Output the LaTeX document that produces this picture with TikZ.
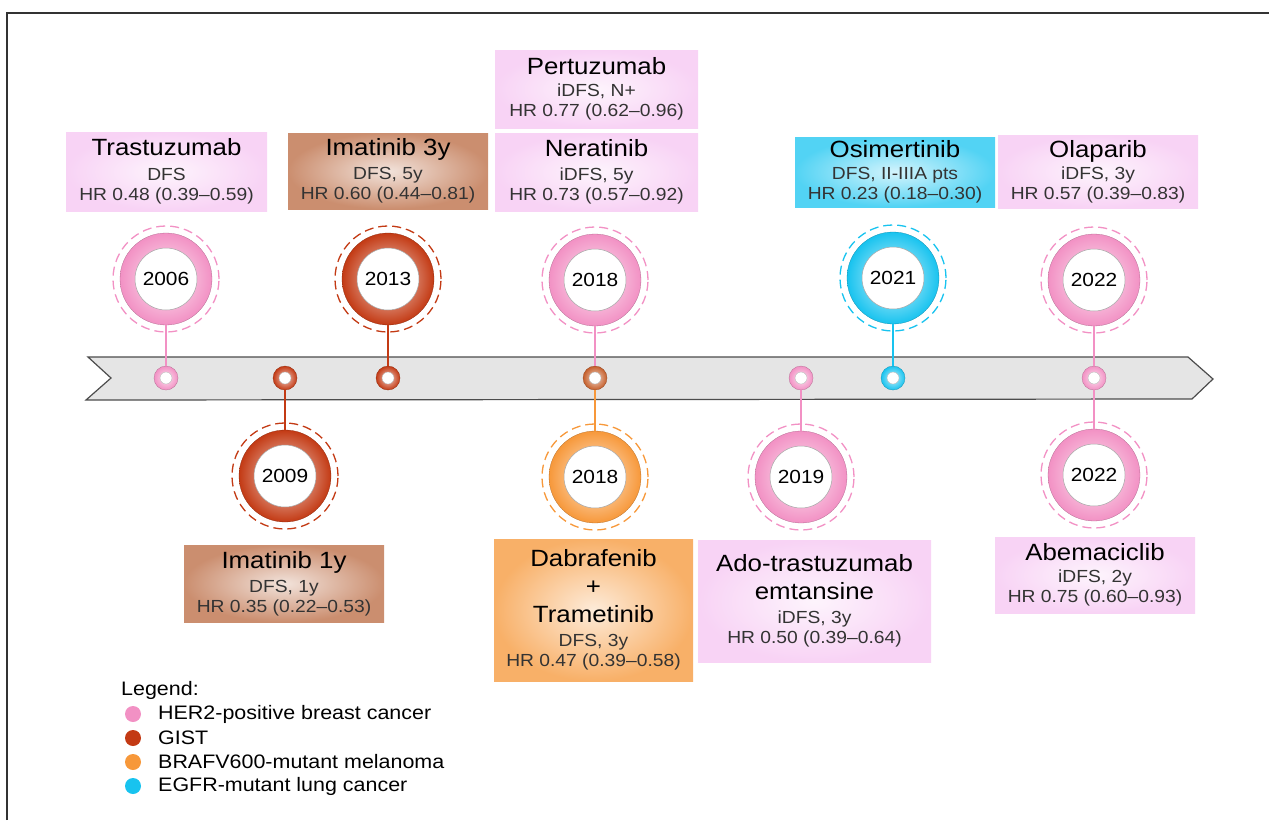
\documentclass[tikz,border=0pt]{standalone}
\usepackage{fontspec}
\setmainfont{Liberation Sans}[FakeStretch=1.1]
\usepackage{tikz}

\definecolor{herpink}{HTML}{F291C4}
\definecolor{gistred}{HTML}{C33A14}
\definecolor{melorange}{HTML}{F7983A}
\definecolor{egfrcyan}{HTML}{18C3EF}
\definecolor{mixdot}{HTML}{C55E2A}
\definecolor{boxpink}{HTML}{F8D3F5}
\definecolor{boxbrown}{HTML}{CB8E6F}
\definecolor{boxorange}{HTML}{F8B068}
\definecolor{boxcyan}{HTML}{52D3F4}
\definecolor{bandgray}{HTML}{E5E5E5}
\definecolor{subgray}{HTML}{333333}

\newcommand{\titlefont}{\fontsize{23.5}{26}\selectfont}
\newcommand{\subfont}{\fontsize{17.5}{20}\selectfont}
\newcommand{\yearfont}{\fontsize{19}{22}\selectfont}
\newcommand{\legendfont}{\fontsize{19.5}{22}\selectfont}

\tikzset{
  ring/.style={circle, inner sep=0pt, minimum size=92pt, shading=radial,
    inner color=#1!20!white, outer color=#1, draw=#1!75!black, line width=0.3pt},
  hole/.style={circle, inner sep=0pt, minimum size=62pt, fill=white,
    draw=gray!70, line width=0.5pt, font=\yearfont},
  halo/.style={draw=#1, dash pattern=on 9pt off 5pt, line width=1.3pt},
  pin/.style={circle, inner sep=0pt, minimum size=24pt, shading=radial,
    inner color=#1!25!white, outer color=#1, draw=#1!75!black, line width=0.3pt},
  pinhole/.style={circle, inner sep=0pt, minimum size=12pt, fill=white,
    draw=gray!60, line width=0.3pt},
  drugbox/.style={rectangle, inner sep=0pt, shading=radial,
    inner color=#1!25!white, outer color=#1, align=center,
    font=\subfont, text=subgray},
  legdot/.style={circle, inner sep=0pt, minimum size=16pt, fill=#1},
  legtext/.style={anchor=west, inner sep=0pt, font=\legendfont}
}

% ring with year in the middle: name, x, y, colour, year
\newcommand{\yearring}[5]{
  \draw [halo=#4] (#2,#3) circle (53pt);
  \node [ring=#4] (#1) at (#2,#3) {};
  \node [hole] (#1h) at (#1) {#5};
}
% small ring on the band: name, x, colour
\newcommand{\pinring}[3]{
  \node [pin=#3] (#1) at (#2,378) {};
  \node [pinhole] (#1h) at (#1) {};
}
\newcommand{\joinline}[3]{
  \draw [color=#3, line width=1.8pt] (#1) to (#2)
}

\begin{document}
\begin{tikzpicture}[x=1pt, y=-1pt]
\useasboundingbox (0,0) rectangle (1269,820);

% frame
\draw [color=subgray, line width=1.5pt] (7,820) -- (7,13) -- (1269,13);

% band
\draw [fill=bandgray, draw=black!70, line width=1.2pt]
  (88,357) -- (1188,357) -- (1213,379) -- (1192,399) -- (86,400) -- (111,378) -- cycle;

% top rings
\yearring {Y1} {166} {279} {herpink} {2006}
\yearring {Y3} {388} {279} {gistred} {2013}
\yearring {Y4} {595} {280} {herpink} {2018}
\yearring {Y7} {893} {278} {egfrcyan} {2021}
\yearring {Y8} {1094} {280} {herpink} {2022}

% bottom rings
\yearring {Y2} {285} {476} {gistred} {2009}
\yearring {Y5} {595} {477} {melorange} {2018}
\yearring {Y6} {801} {477} {herpink} {2019}
\yearring {Y9} {1094} {475} {herpink} {2022}

% pins on the band
\pinring {P1} {166} {herpink}
\pinring {P2} {285} {gistred}
\pinring {P3} {388} {gistred}
\pinring {P4} {595} {mixdot}
\pinring {P6} {801} {herpink}
\pinring {P7} {893} {egfrcyan}
\pinring {P8} {1094} {herpink}

% connect rings to pins
\joinline {Y1} {P1} {herpink};
\joinline {Y2} {P2} {gistred};
\joinline {Y3} {P3} {gistred};
\joinline {Y4} {P4} {herpink};
\joinline {Y5} {P4} {melorange};
\joinline {Y6} {P6} {herpink};
\joinline {Y7} {P7} {egfrcyan};
\joinline {Y8} {P8} {herpink};
\joinline {Y9} {P8} {herpink};

% boxes above
\node [drugbox=boxpink, minimum width=201pt, minimum height=79pt] (B1) at (166.5,171.5)
  {{\titlefont\color{black} Trastuzumab}\\[5pt] DFS\\ HR 0.48 (0.39–0.59)};
\node [drugbox=boxbrown, minimum width=200pt, minimum height=76pt] (B3) at (388,171)
  {{\titlefont\color{black} Imatinib 3y}\\[4pt] DFS, 5y\\ HR 0.60 (0.44–0.81)};
\node [drugbox=boxpink, minimum width=203pt, minimum height=78pt] (B4a) at (596.5,89)
  {{\titlefont\color{black} Pertuzumab}\\[2pt] iDFS, N+\\ HR 0.77 (0.62–0.96)};
\node [drugbox=boxpink, minimum width=203pt, minimum height=78pt] (B4b) at (596.5,172)
  {{\titlefont\color{black} Neratinib}\\[4pt] iDFS, 5y\\ HR 0.73 (0.57–0.92)};
\node [drugbox=boxcyan, minimum width=200pt, minimum height=70pt] (B7) at (895,172)
  {{\titlefont\color{black} Osimertinib}\\[2pt] DFS, II-IIIA pts\\ HR 0.23 (0.18–0.30)};
\node [drugbox=boxpink, minimum width=200pt, minimum height=73pt] (B8) at (1098,171.5)
  {{\titlefont\color{black} Olaparib}\\[2pt] iDFS, 3y\\ HR 0.57 (0.39–0.83)};

% boxes below
\node [drugbox=boxbrown, minimum width=200pt, minimum height=77pt] (B2) at (284,583.5)
  {{\titlefont\color{black} Imatinib 1y}\\[4pt] DFS, 1y\\ HR 0.35 (0.22–0.53)};
\node [drugbox=boxorange, minimum width=199pt, minimum height=142pt] (B5) at (593.5,610)
  {{\titlefont\color{black} Dabrafenib}\\[8pt] {\titlefont\color{black} +}\\[8pt]
   {\titlefont\color{black} Trametinib}\\[4pt] DFS, 3y\\ HR 0.47 (0.39–0.58)};
\node [drugbox=boxpink, minimum width=233pt, minimum height=122pt] (B6) at (814.5,601)
  {{\titlefont\color{black} Ado-trastuzumab}\\[8pt] {\titlefont\color{black} emtansine}\\[4pt]
   iDFS, 3y\\ HR 0.50 (0.39–0.64)};
\node [drugbox=boxpink, minimum width=200pt, minimum height=76pt] (B9) at (1095,575)
  {{\titlefont\color{black} Abemaciclib}\\[2pt] iDFS, 2y\\ HR 0.75 (0.60–0.93)};

% legend
\node [legtext] (L0) at (121,690) {Legend:};
\node [legdot=herpink] (L1) at (133,714) {};
\node [legtext] (L1t) at (158,714) {HER2-positive breast cancer};
\node [legdot=gistred] (L2) at (133,738) {};
\node [legtext] (L2t) at (158,738) {GIST};
\node [legdot=melorange] (L3) at (133,762) {};
\node [legtext] (L3t) at (158,762) {BRAFV600-mutant melanoma};
\node [legdot=egfrcyan] (L4) at (133,786) {};
\node [legtext] (L4t) at (158,786) {EGFR-mutant lung cancer};

\end{tikzpicture}
\end{document}
